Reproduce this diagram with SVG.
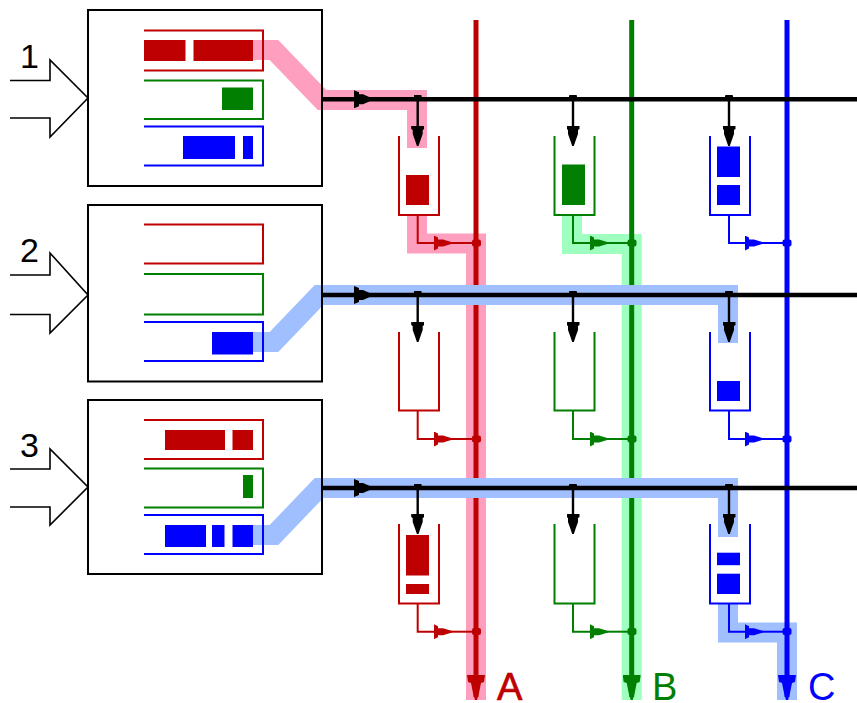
<svg xmlns="http://www.w3.org/2000/svg" width="857" height="703" viewBox="0 0 857 703">
<style>
text{font-family:"Liberation Sans",Arial,sans-serif}
.num{font-size:34px;fill:#000}
.let{font-size:38px}
.box{fill:none;stroke:#000;stroke-width:2}
.in{fill:none;stroke:#000;stroke-width:1.6}
.q,.b{fill:none;stroke-width:2}
.r{stroke:#bf0000}.g{stroke:#007f00}.u{stroke:#0000ff}
.fr{fill:#bf0000}.fg{fill:#007f00}.fu{fill:#0000ff}
.band{fill:none;stroke-width:20}
.pink{stroke:#ff9fbf}.mint{stroke:#9fffbf}.sky{stroke:#9fbfff}
.main{fill:none;stroke:#000;stroke-width:4.5}
.bus{fill:none;stroke-width:5}
.drop{fill:none;stroke:#000;stroke-width:2.4;marker-start:url(#tick);marker-end:url(#hk)}
.out{fill:none;stroke-width:2}
.flow{fill:none;stroke:#000;stroke-width:1;marker-end:url(#hm)}
</style>
<defs>
<marker id="hk" markerUnits="userSpaceOnUse" viewBox="0 0 20 13" markerWidth="20" markerHeight="13" refX="17" refY="6.5" orient="auto"><path d="M0 0H3L4 1.500H8L15 4L20 5.700V7.300L15 9L8 11.500H4L3 13H0Z" fill="#000"/></marker>
<marker id="hm" markerUnits="userSpaceOnUse" viewBox="0 0 18 18" markerWidth="18" markerHeight="18" refX="15" refY="9" orient="auto"><path d="M0 0L5 2V4H9L18 8V10L9 14H5V16L0 18Z" fill="#000"/></marker>
<marker id="hr" markerUnits="userSpaceOnUse" viewBox="0 0 18 15" markerWidth="18" markerHeight="15" refX="15" refY="7.500" orient="auto"><path d="M0 0L4 2V4H9L18 6.700V8.300L9 11H4V13L0 15Z" fill="#bf0000"/></marker>
<marker id="hg" markerUnits="userSpaceOnUse" viewBox="0 0 18 15" markerWidth="18" markerHeight="15" refX="15" refY="7.500" orient="auto"><path d="M0 0L4 2V4H9L18 6.700V8.300L9 11H4V13L0 15Z" fill="#007f00"/></marker>
<marker id="hu" markerUnits="userSpaceOnUse" viewBox="0 0 18 15" markerWidth="18" markerHeight="15" refX="15" refY="7.500" orient="auto"><path d="M0 0L4 2V4H9L18 6.700V8.300L9 11H4V13L0 15Z" fill="#0000ff"/></marker>
<marker id="tick" markerUnits="userSpaceOnUse" viewBox="0 0 4 8" markerWidth="4" markerHeight="8" refX="2" refY="4" orient="auto"><rect width="4" height="8" rx="1" fill="#000"/></marker>
<marker id="br" markerUnits="userSpaceOnUse" viewBox="0 0 25 18" markerWidth="25" markerHeight="18" refX="22" refY="9" orient="auto"><path d="M0 0L7 1L8 4L18 6L25 8V10L18 12L8 14L7 17L0 18Z" fill="#bf0000"/></marker>
<marker id="bg" markerUnits="userSpaceOnUse" viewBox="0 0 25 18" markerWidth="25" markerHeight="18" refX="22" refY="9" orient="auto"><path d="M0 0L7 1L8 4L18 6L25 8V10L18 12L8 14L7 17L0 18Z" fill="#007f00"/></marker>
<marker id="bu" markerUnits="userSpaceOnUse" viewBox="0 0 25 18" markerWidth="25" markerHeight="18" refX="22" refY="9" orient="auto"><path d="M0 0L7 1L8 4L18 6L25 8V10L18 12L8 14L7 17L0 18Z" fill="#0000ff"/></marker>
</defs>
<rect width="857" height="703" fill="#fff"/>
<g id="connectors">
<path class="band pink" d="M253 50H274L322 100H417V148"/>
<path class="band pink" d="M417 215V243.500H476V700"/>
<path class="band mint" d="M572 215V244H631.700V700"/>
<path class="band sky" d="M728 603V632.500H787V700"/>
<path class="bus r" d="M476 20V697" marker-end="url(#br)"/>
<path class="bus g" d="M631.700 20V697" marker-end="url(#bg)"/>
<path class="bus u" d="M787 20V697" marker-end="url(#bu)"/>
<path class="band sky" d="M253 342H274L319 295H728V343"/>
<path class="band sky" d="M253 535H274L319 488H728V537"/>
<path class="main" d="M322 99.300H857"/>
<path class="main" d="M322 295H857"/>
<path class="main" d="M322 488H857"/>
<path class="flow" d="M322 99.300H369"/>
<path class="flow" d="M322 295H369"/>
<path class="flow" d="M322 488H369"/>
<path class="drop" d="M417.700 97V143"/><path class="drop" d="M573 97V143"/><path class="drop" d="M729 97V143"/>
<path class="drop" d="M417.700 293V339"/><path class="drop" d="M573 293V339"/><path class="drop" d="M729 293V339"/>
<path class="drop" d="M417.700 486V531"/><path class="drop" d="M573 486V531"/><path class="drop" d="M729 486V531"/>
<path class="out r" d="M417.700 215V243H449" marker-end="url(#hr)"/><path class="out r" d="M449 243H476"/><rect class="fr" x="472" y="239.500" width="9" height="7" rx="2"/>
<path class="out g" d="M573 215V243H605" marker-end="url(#hg)"/><path class="out g" d="M605 243H631.700"/><rect class="fg" x="627.500" y="239.500" width="9" height="7" rx="2"/>
<path class="out u" d="M729 215V243H760" marker-end="url(#hu)"/><path class="out u" d="M760 243H787"/><rect class="fu" x="782.500" y="239.500" width="9" height="7" rx="2"/>
<path class="out r" d="M417.700 411V439H449" marker-end="url(#hr)"/><path class="out r" d="M449 439H476"/><rect class="fr" x="472" y="435.500" width="9" height="7" rx="2"/>
<path class="out g" d="M573 411V439H605" marker-end="url(#hg)"/><path class="out g" d="M605 439H631.700"/><rect class="fg" x="627.500" y="435.500" width="9" height="7" rx="2"/>
<path class="out u" d="M729 411V439H760" marker-end="url(#hu)"/><path class="out u" d="M760 439H787"/><rect class="fu" x="782.500" y="435.500" width="9" height="7" rx="2"/>
<path class="out r" d="M417.700 603V631.700H449" marker-end="url(#hr)"/><path class="out r" d="M449 631.700H476"/><rect class="fr" x="472" y="628" width="9" height="7" rx="2"/>
<path class="out g" d="M573 603V631.700H605" marker-end="url(#hg)"/><path class="out g" d="M605 631.700H631.700"/><rect class="fg" x="627.500" y="628" width="9" height="7" rx="2"/>
<path class="out u" d="M729 603V631.700H760" marker-end="url(#hu)"/><path class="out u" d="M760 631.700H787"/><rect class="fu" x="782.500" y="628" width="9" height="7" rx="2"/>
</g>
<g id="source1">
<path class="in" d="M10 80.500H50V60L88 98L50 137V118H10"/>
<text class="num" x="20" y="68">1</text>
<rect class="box" x="88" y="10" width="234" height="176"/>
<path class="q r" d="M144 30.500H263V70.500H144"/><path class="q g" d="M144 80.500H263V119H144"/><path class="q u" d="M144 126.500H263V165.500H144"/>
<rect class="fr" x="144" y="40" width="41.500" height="21"/><rect class="fr" x="193.500" y="40" width="59.500" height="21"/>
<rect class="fg" x="222" y="87.500" width="31" height="22.500"/>
<rect class="fu" x="183" y="136" width="52" height="23"/><rect class="fu" x="243" y="136" width="10" height="23"/>
</g>
<g id="source2">
<path class="in" d="M10 275H50V253L88 295L50 333V314.500H10"/>
<text class="num" x="20" y="262">2</text>
<rect class="box" x="88" y="205" width="234" height="176.500"/>
<path class="q r" d="M144 224.500H263V263.500H144"/><path class="q g" d="M144 274H263V314.500H144"/><path class="q u" d="M144 322H263V361H144"/>
<rect class="fu" x="212" y="332" width="41" height="22.500"/>
</g>
<g id="source3">
<path class="in" d="M10 469H50V449L88 487L50 525V507H10"/>
<text class="num" x="20" y="457">3</text>
<rect class="box" x="88" y="400" width="234" height="174"/>
<path class="q r" d="M144 420H263V459H144"/><path class="q g" d="M144 468.500H263V507.500H144"/><path class="q u" d="M144 515H263V554H144"/>
<rect class="fr" x="165" y="430" width="60" height="20"/><rect class="fr" x="232.500" y="430" width="20.500" height="20"/>
<rect class="fg" x="243" y="475" width="10" height="23"/>
<rect class="fu" x="165" y="525" width="41" height="22"/><rect class="fu" x="212" y="525" width="12.500" height="22"/><rect class="fu" x="232.500" y="525" width="20.500" height="22"/>
</g>
<g id="q-a1"><path class="b r" d="M399 136V215H439V136"/><rect class="fr" x="406" y="175" width="23" height="30"/></g>
<g id="q-b1"><path class="b g" d="M554.500 136V215H594.500V136"/><rect class="fg" x="562" y="164.500" width="23" height="40.500"/></g>
<g id="q-c1"><path class="b u" d="M710 136V215H750V136"/><rect class="fu" x="717" y="146.500" width="23" height="30.500"/><rect class="fu" x="717" y="185" width="23" height="20"/></g>
<g id="q-a2"><path class="b r" d="M399 332V410.500H439V332"/></g>
<g id="q-b2"><path class="b g" d="M554.500 332V410.500H594.500V332"/></g>
<g id="q-c2"><path class="b u" d="M710 332V410.500H750V332"/><rect class="fu" x="717" y="381" width="23" height="20"/></g>
<g id="q-a3"><path class="b r" d="M399 524V603.500H439V524"/><rect class="fr" x="406" y="535" width="23" height="40.500"/><rect class="fr" x="406" y="584" width="23" height="10"/></g>
<g id="q-b3"><path class="b g" d="M554.500 524V603.500H594.500V524"/></g>
<g id="q-c3"><path class="b u" d="M710 524V603.500H750V524"/><rect class="fu" x="717" y="552.700" width="23" height="12.500"/><rect class="fu" x="717" y="573.700" width="23" height="20.300"/></g>
<text class="let fr" x="497" y="700" stroke="#bf0000" stroke-width="0.7">A</text>
<text class="let fg" x="652" y="700">B</text>
<text class="let fu" x="808" y="700">C</text>
</svg>
